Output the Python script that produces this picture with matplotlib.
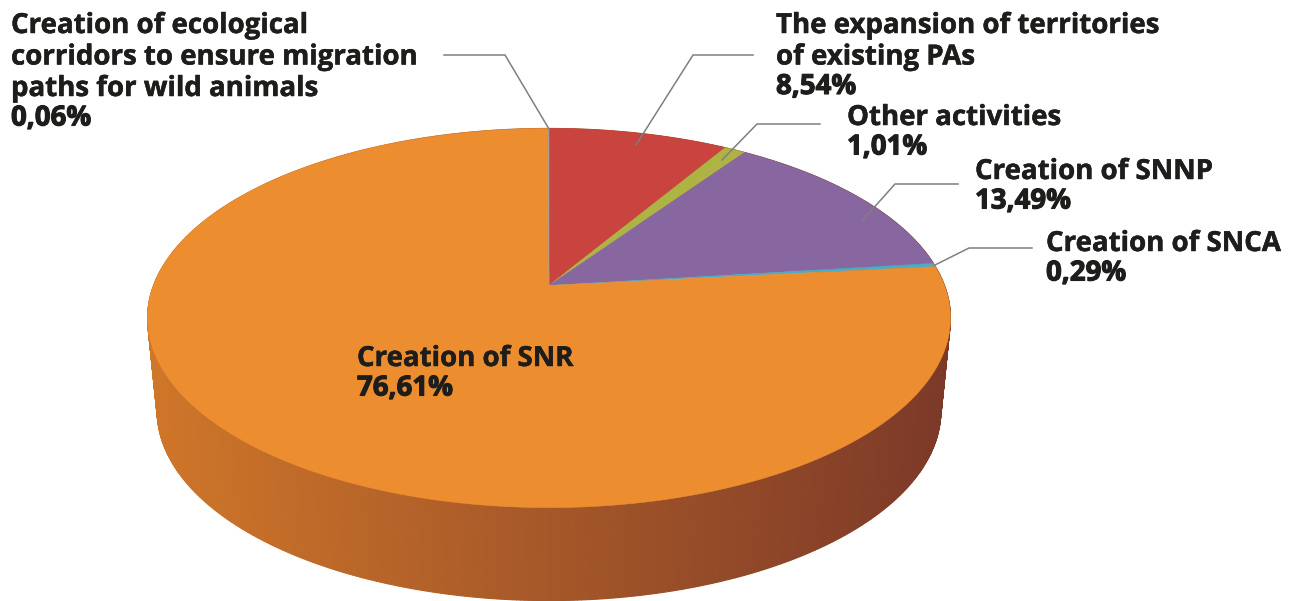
import numpy as np
import matplotlib
matplotlib.use('Agg')
import matplotlib.pyplot as plt
import matplotlib.patheffects as pe

# slices, clockwise from 12 o'clock
names = ['The expansion of territories\nof existing PAs', 'Other activities', 'Creation of SNNP',
         'Creation of SNCA', 'Creation of SNR',
         'Creation of ecological\ncorridors to ensure migration\npaths for wild animals']
shares = [8.54, 1.01, 13.49, 0.29, 76.61, 0.06]
share_labels = ['8,54%', '1,01%', '13,49%', '0,29%', '76,61%', '0,06%']
colors = ['#C9433F', '#AEB443', '#8866A0', '#4BACC6', '#EC8E2F', '#A89F98']

# label layout: x and baseline of first line, in pixels
label_pos = [(776, 33), (847, 125), (975, 179), (1046, 251), (357, 366), (11, 33)]
line_step = 31.5
leaders = [[(636, 145), (693, 55), (753, 55)],
           [(722, 160), (757, 124), (820, 124)],
           [(862, 221), (895, 184), (958, 184)],
           [(935, 265), (969, 248), (1032, 248)],
           None,
           [(549, 129), (505, 55), (444, 55)]]

# perspective disc
cx, cy = 549, 285.5
rx, ry = 395.5, 184
persp = 0.1715
depth = 93
base_scale = 0.976


def project(theta, r=1.0, drop=0.0, scale=1.0):
    w = 1 + persp * r * np.cos(theta)
    return (cx + scale * rx * r * np.sin(theta) / w,
            cy + drop + ry * r * np.cos(theta) * -1 / w)


fig = plt.figure(figsize=(12.98, 6.01), dpi=100)
ax = fig.add_axes([0, 0, 1, 1])
ax.set_xlim(0, 1298)
ax.set_ylim(601, 0)
ax.axis('off')

# side wall, shaded left to right
wall_left = np.array([207, 118, 41]) / 255
wall_right = np.array([124, 57, 40]) / 255
steps = np.linspace(0, 2 * np.pi, 721)
x0, x1 = cx - 401.5, cx + 401.5
for a, b in zip(steps[:-1], steps[1:]):
    xa, ya = project(a)
    xb, yb = project(b)
    xc, yc = project(b, drop=depth, scale=base_scale)
    xd, yd = project(a, drop=depth, scale=base_scale)
    t = np.clip(((xa + xb) / 2 - x0) / (x1 - x0), 0, 1)
    c = wall_left + (wall_right - wall_left) * t
    ax.fill([xa, xb, xc, xd], [ya, yb, yc, yd], color=c, lw=0.8, zorder=1)

# top face
edges = np.cumsum([0] + shares) / sum(shares) * 2 * np.pi
for i, col in enumerate(colors):
    th = np.linspace(edges[i], edges[i + 1], max(int(shares[i] * 8), 4))
    xs, ys = project(th)
    ax.fill(np.r_[cx, xs], np.r_[cy, ys], color=col, lw=0.4, zorder=2)

for pts in leaders:
    if pts:
        ax.plot(*zip(*pts), color='#7F7F7F', lw=1.1, zorder=3, solid_joinstyle='miter')

# labels
semi = [pe.withStroke(linewidth=0.35, foreground='#1D1D1B')]
heavy = [pe.withStroke(linewidth=0.8, foreground='#1D1D1B')]
for name, val, (x, y) in zip(names, share_labels, label_pos):
    lines = name.split('\n')
    for j, line in enumerate(lines):
        ax.text(x, y + j * line_step, line, fontsize=19.9, family='Open Sans', weight='bold',
                color='#1D1D1B', va='baseline', ha='left', zorder=4, path_effects=semi)
    ax.text(x, y + len(lines) * line_step - 2, val, fontsize=19.9, family='Open Sans', weight='bold',
            color='#1D1D1B', va='baseline', ha='left', zorder=4, path_effects=heavy)

plt.savefig('out.png', dpi=100)
